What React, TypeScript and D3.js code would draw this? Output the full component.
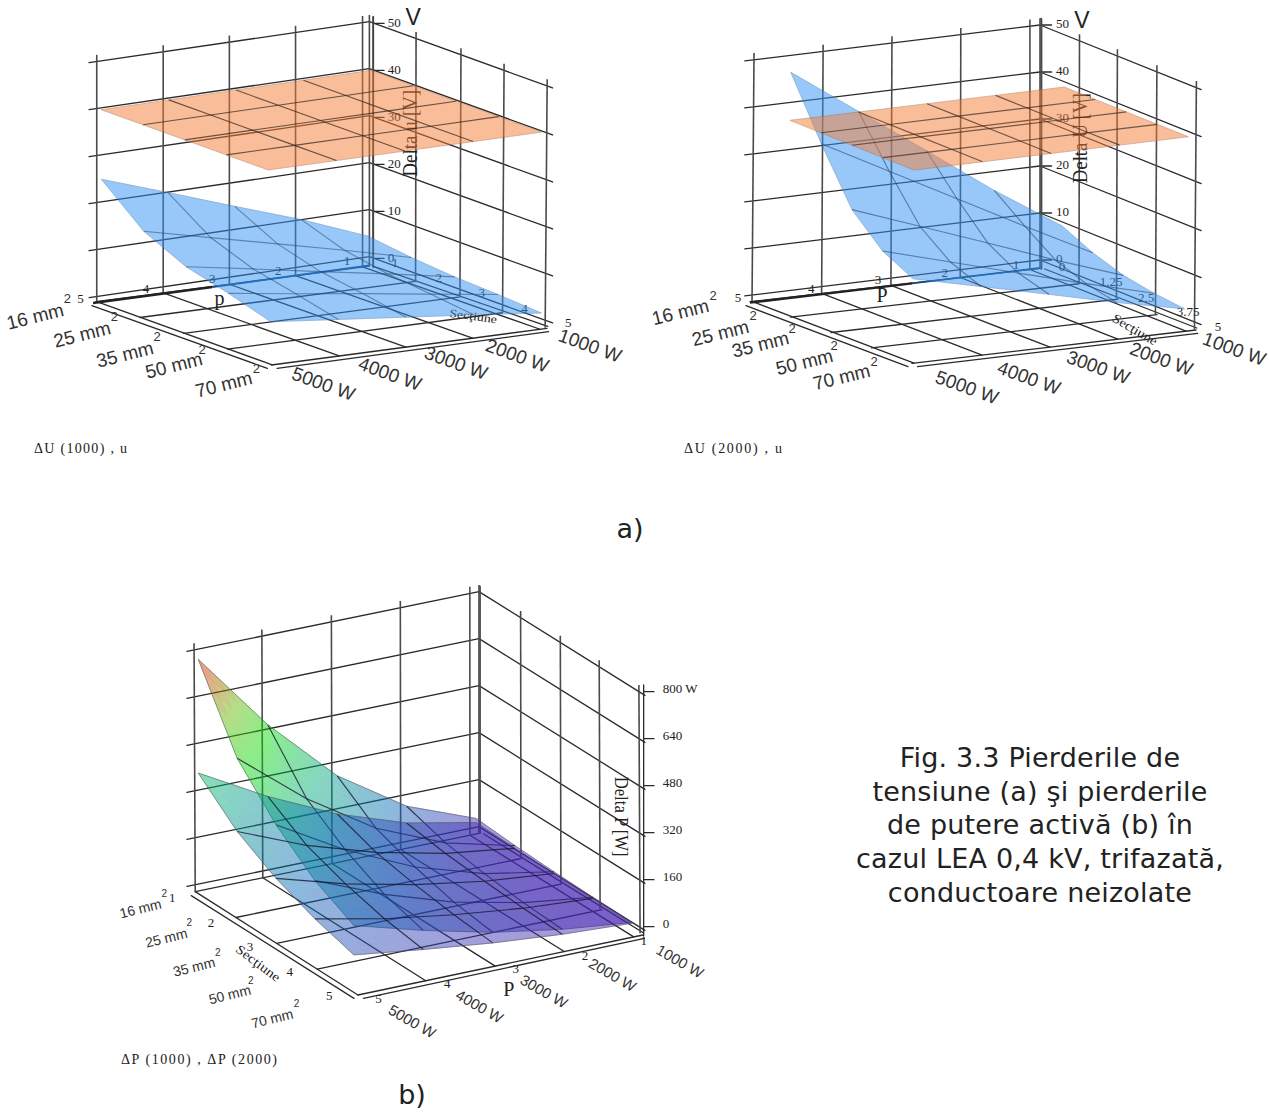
import React from "react";
import * as d3 from "d3";

// ---------- data ----------
const powerValues = [5, 4, 3, 2, 1];
const sectionValues = [1, 2, 3, 4, 5];
const sectionLabels = ["16 mm", "25 mm", "35 mm", "50 mm", "70 mm"];
const powerLabels = ["5000 W", "4000 W", "3000 W", "2000 W", "1000 W"];
const voltTicks = [0, 10, 20, 30, 40, 50];
const wattTicks = [0, 160, 320, 480, 640, 800];
const sectionAxisB = ["0", "1.25", "2.5", "3.75", "5"];

// rows: P = 5..1 (x1000 W), columns: section 16..70 mm2
const deltaU1000 = [
  [24.8, 17, 12.7, 10.3, 7.5],
  [19.9, 13.6, 10.2, 8.2, 6],
  [14.9, 10.2, 7.6, 6.2, 4.5],
  [10, 6.8, 5.1, 4.1, 3],
  [4.4, 3.2, 2.4, 2, 1.4],
];
const deltaU2000 = [
  [50.6, 38, 26.6, 20.4, 17.1],
  [40.5, 30.4, 21.3, 16.3, 13.7],
  [30.4, 22.8, 16, 12.2, 10.3],
  [20.2, 15.2, 10.6, 8.2, 6.8],
  [10.9, 7.8, 5.6, 4.4, 3.7],
];
const uLimitA = [39.6, 39.6, 39.6, 39.6, 39.6];
const uLimitB = [40.3, 40.3, 40.3, 40.3, 40.3];
const deltaP2000 = [
  [765, 511, 367, 260, 190],
  [494, 325, 233, 165, 125],
  [272, 176, 127, 90, 70],
  [120, 78, 56, 40, 32],
  [30, 20, 14, 10, 7],
];
const deltaP1000 = [
  [378, 262, 185, 130, 90],
  [250, 166, 118, 82, 60],
  [142, 94, 67, 47, 34],
  [63, 42, 30, 21, 15],
  [16, 11, 8, 6, 4],
];
const captionLines = [
  "Fig. 3.3 Pierderile de",
  "tensiune (a) şi pierderile",
  "de putere activă (b) în",
  "cazul LEA 0,4 kV, trifazată,",
  "conductoare neizolate",
];

// ---------- geometry ----------
type Pt = [number, number];
type Quad = { L: Pt; B: Pt; R: Pt; F: Pt };
const lerp = (a: Pt, b: Pt, t: number): Pt => [a[0] + (b[0] - a[0]) * t, a[1] + (b[1] - a[1]) * t];
const onQuad = (q: Quad, tp: number, ts: number): Pt => lerp(lerp(q.L, q.B, tp), lerp(q.F, q.R, tp), ts);
const line = d3.line<Pt>();
const SANS = "'Liberation Sans', Arial, sans-serif";
const SERIF = "'Liberation Serif', 'Times New Roman', serif";
const WIDE = "'DejaVu Sans', Verdana, sans-serif";
const NS = "non-scaling-stroke";

const rainbow = d3
  .scaleLinear<string>()
  .domain([0, 160, 320, 480, 600, 720, 800])
  .range(["#4a1fb0", "#0a6cb8", "#00aa7d", "#05db05", "#64b700", "#cf4000", "#d83a10"])
  .clamp(true);

type Surf = {
  rows: number[][];
  color?: string;
  ramp?: boolean;
  tp: [number, number];
  ts: [number, number];
  opacity: number;
  mesh: string;
  meshOpacity: number;
};
type Title = { t: string; x: number; y: number; rot: number; fs: number; len?: number; family?: string };
type Panel = {
  ox: number;
  oy: number;
  sx: number;
  wall: Quad;
  floor: Quad;
  zTicks: number[];
  zStep: number;
  leftT: number[];
  rightT: number[];
  gridS: number[];
  axisX: number;
  axisY0: number;
  zLabels: string[];
  zLabelX: number;
  zLabelDy: number;
  surfaces: Surf[];
  pNums: { t: string; x: number; y: number }[];
  sNums: { t: string; x: number; y: number }[];
  mm: Pt[];
  sup: Pt[];
  watt: Pt[];
  mmFs: number;
  wFs: number;
  supFs: number;
  mmRot: number;
  wRot: number;
  titles: Title[];
  heavy: Pt[][];
  heavyBlue: Pt[][];
};

function Surface({ s, wall, zPx }: { s: Surf; wall: Quad; zPx: (z: number) => number }) {
  const pT = d3.scaleLinear().domain([5, 1]).range(s.tp);
  const sT = d3.scaleLinear().domain([1, 5]).range(s.ts);
  const at = (p: number, q: number, z: number): Pt => {
    const b = onQuad(wall, pT(p), sT(q));
    return [b[0], b[1] - zPx(z)];
  };
  const cells: React.ReactNode[] = [];
  const n = s.ramp ? 6 : 1;
  for (let i = 0; i < 4; i++)
    for (let j = 0; j < 4; j++) {
      const z00 = s.rows[i][j], z01 = s.rows[i][j + 1], z10 = s.rows[i + 1][j], z11 = s.rows[i + 1][j + 1];
      const zAt = (u: number, v: number) => (z00 * (1 - v) + z01 * v) * (1 - u) + (z10 * (1 - v) + z11 * v) * u;
      const pos = (u: number, v: number) => at(powerValues[i] - u, sectionValues[j] + v, zAt(u, v));
      for (let a = 0; a < n; a++)
        for (let b = 0; b < n; b++) {
          const u0 = a / n, u1 = (a + 1) / n, v0 = b / n, v1 = (b + 1) / n;
          const c = s.ramp ? rainbow(zAt((u0 + u1) / 2, (v0 + v1) / 2)) : s.color!;
          cells.push(
            <path
              key={`${i}-${j}-${a}-${b}`}
              d={line([pos(u0, v0), pos(u0, v1), pos(u1, v1), pos(u1, v0)])! + "Z"}
              fill={c}
              stroke={c}
              strokeWidth={0.7}
              vectorEffect={NS}
            />
          );
        }
    }
  const meshP = powerValues.map((p, i) => line(sectionValues.map((q, j) => at(p, q, s.rows[i][j])))!);
  const meshS = sectionValues.map((q, j) => line(powerValues.map((p, i) => at(p, q, s.rows[i][j])))!);
  const edges = [meshP[0], meshP[4], meshS[0], meshS[4]];
  return (
    <g>
      <g opacity={s.opacity}>{cells}</g>
      <g fill="none" stroke={s.mesh} strokeOpacity={s.meshOpacity} strokeWidth={1.15}>
        {meshP.slice(1, 4).concat(meshS.slice(1, 4)).map((d, i) => (
          <path key={i} d={d} vectorEffect={NS} />
        ))}
      </g>
      <g fill="none" stroke="#555" strokeOpacity={s.ramp ? 0.55 : 0.2} strokeWidth={1}>
        {edges.map((d, i) => (
          <path key={i} d={d} vectorEffect={NS} />
        ))}
      </g>
    </g>
  );
}

function Chart({ P }: { P: Panel }) {
  const { wall, floor, sx } = P;
  const sy = 1 / 3;
  const X = (x: number) => x * sx;
  const Y = (y: number) => y * sy;
  const zPx = d3.scaleLinear().domain([P.zTicks[0], P.zTicks[5]]).range([0, 5 * P.zStep]);
  const zTop = P.zTicks[5];
  const wallAt = (tp: number, ts: number, z: number): Pt => {
    const b = onQuad(wall, tp, ts);
    return [b[0], b[1] - zPx(z)];
  };
  const lines: Pt[][] = [];
  const posts: Pt[][] = [];
  P.zTicks.forEach((z) => {
    lines.push([wallAt(-0.025, 0, z), wallAt(1, 0, z)]);
    lines.push([wallAt(1, 0, z), wallAt(1, 1.02, z)]);
  });
  P.leftT.forEach((t) => {
    const top = wallAt(t, 0, zTop);
    posts.push([[top[0], top[1] - 20], onQuad(floor, t, 0)]);
  });
  P.rightT.forEach((t) => {
    const top = wallAt(1, t, zTop);
    posts.push([[top[0], top[1] - 20], onQuad(floor, 1, t)]);
  });
  P.leftT.forEach((t) => lines.push([onQuad(floor, t, 0), onQuad(floor, t, 1)]));
  P.gridS.forEach((t) => lines.push([onQuad(floor, 0, t), onQuad(floor, 1, t)]));
  const bt = wallAt(1, 0, zTop);
  posts.push([[bt[0], bt[1] - 20], floor.B]);
  const shift = (a: Pt, dx: number, dy: number): Pt => [a[0] + dx, a[1] + dy];
  lines.push([shift(floor.L, -10, 12), shift(floor.F, -10, 10)]);
  lines.push([shift(floor.F, 14, 10), shift(floor.R, 4, 10)]);
  lines.push([shift(floor.B, 12, 2), shift(floor.R, 2, -6)]);
  const axisX = P.axisX;
  const axisY = (z: number) => P.axisY0 - zPx(z);
  return (
    <g transform={`translate(${P.ox},${P.oy})`}>
      <g transform={`scale(${sx},${sy})`}>
        <g stroke="#2a2a2a" strokeWidth={1.3} fill="none" strokeLinecap="round">
          {lines.map((l, i) => (
            <path key={i} d={line(l)!} vectorEffect={NS} />
          ))}
          <path d={`M${axisX},${axisY(zTop) - 20}L${axisX},${P.axisY0 + 28}`} vectorEffect={NS} />
          {P.zTicks.map((z) => (
            <path key={z} d={`M${axisX},${axisY(z)}L${axisX + 26},${axisY(z)}`} vectorEffect={NS} />
          ))}
        </g>
        <g stroke="#4a4a4a" strokeWidth={1.6} fill="none">
          {posts.map((l, i) => (
            <path key={i} d={line(l)!} vectorEffect={NS} />
          ))}
        </g>
        {P.heavy.map((l, i) => (
          <path key={i} d={line(l)!} stroke="#222" strokeWidth={2.4} fill="none" vectorEffect={NS} />
        ))}
        {P.heavyBlue.map((l, i) => (
          <path key={i} d={line(l)!} stroke="#1a4a80" strokeWidth={1.8} fill="none" vectorEffect={NS} />
        ))}
      </g>
      <g fontFamily={SERIF} fontSize={13} fill="#222">
        {P.zLabels.map((t, i) => (
          <text key={t} x={X(P.zLabelX)} y={Y(axisY(P.zTicks[i]) + P.zLabelDy)}>{t}</text>
        ))}
      </g>
      <g fontFamily={SERIF} fontSize={13} fill="#222" textAnchor="middle">
        {P.pNums.concat(P.sNums).map((n, i) => (
          <text key={i} x={X(n.x)} y={Y(n.y)}>{n.t}</text>
        ))}
      </g>
      <g fontFamily={SERIF} fill="#222" textAnchor="middle">
        {P.titles.map((t) => (
          <text
            key={t.t}
            transform={`translate(${X(t.x)},${Y(t.y)}) rotate(${t.rot})`}
            fontSize={t.fs}
            fontFamily={t.family}
            textLength={t.len}
            lengthAdjust={t.len ? "spacingAndGlyphs" : undefined}
          >
            {t.t}
          </text>
        ))}
      </g>
      <g transform={`scale(${sx},${sy})`}>
        {P.surfaces.map((s, i) => (
          <Surface key={i} s={s} wall={wall} zPx={zPx} />
        ))}
      </g>
      <g fontFamily={SANS} fill="#333" textAnchor="middle">
        {sectionLabels.map((t, i) => (
          <text key={t} fontSize={P.mmFs} transform={`translate(${X(P.mm[i][0])},${Y(P.mm[i][1])}) rotate(${P.mmRot})`}>{t}</text>
        ))}
        {P.sup.map((s, i) => (
          <text key={i} x={X(s[0])} y={Y(s[1])} fontSize={P.supFs}>2</text>
        ))}
        {powerLabels.map((t, i) => (
          <text key={t} fontSize={P.wFs} transform={`translate(${X(P.watt[i][0])},${Y(P.watt[i][1])}) rotate(${P.wRot})`}>{t}</text>
        ))}
      </g>
    </g>
  );
}

const nums = (labels: (string | number)[], pos: Pt[]) => labels.map((t, i) => ({ t: String(t), x: pos[i][0], y: pos[i][1] }));
const blue = "#3393f5";
const orange = "#f57d37";

const panelA1: Panel = {
  ox: 0, oy: 0, sx: 1 / 2.45,
  wall: { L: [235, 890], B: [905, 770], R: [1345, 965], F: [665, 1080] },
  floor: { L: [235, 905], B: [905, 798], R: [1340, 985], F: [665, 1095] },
  zTicks: voltTicks, zStep: 141,
  leftT: [0.003, 0.246, 0.488, 0.73, 0.975],
  rightT: [0.02, 0.26, 0.51, 0.75, 0.99],
  gridS: [0, 0.25, 0.5, 0.75, 1],
  axisX: 915, axisY0: 775,
  zLabels: voltTicks.map(String), zLabelX: 950, zLabelDy: 10,
  surfaces: [
    { rows: deltaU1000, color: blue, tp: [0.02, 0.995], ts: [0, 0.965], opacity: 0.5, mesh: "#2a4a70", meshOpacity: 0.55 },
    { rows: powerValues.map(() => uLimitA), color: orange, tp: [0.02, 1.005], ts: [0, 0.95], opacity: 0.5, mesh: "#3a2a20", meshOpacity: 0.75 },
  ],
  pNums: nums(powerValues, [[197, 908], [358, 880], [520, 850], [682, 825], [850, 795]]),
  sNums: nums(sectionValues, [[968, 800], [1075, 845], [1180, 890], [1285, 938], [1392, 982]]),
  mm: [[90, 968], [205, 1022], [310, 1082], [430, 1115], [552, 1172]],
  sup: [[165, 908], [280, 963], [385, 1023], [495, 1063], [628, 1118]],
  watt: [[787, 1170], [950, 1140], [1112, 1107], [1262, 1085], [1440, 1055]],
  mmFs: 19, wFs: 19, supFs: 13, mmRot: -14, wRot: 20,
  titles: [
    { t: "Delta u [V]", x: 1022, y: 400, rot: -90, fs: 21, len: 87 },
    { t: "p", x: 538, y: 915, rot: 0, fs: 20 },
    { t: "Secţiune", x: 1158, y: 960, rot: 8, fs: 11.5, len: 48 },
    { t: "V", x: 1012, y: 75, rot: 0, fs: 23, family: SANS },
  ],
  heavy: [[[228, 909], [520, 861]]],
  heavyBlue: [[[520, 861], [905, 796]]],
};

const panelA2: Panel = {
  ox: 640, oy: 0, sx: 1 / 2.5,
  wall: { L: [280, 885], B: [1000, 780], R: [1395, 970], F: [675, 1075] },
  floor: { L: [275, 905], B: [1000, 805], R: [1390, 990], F: [680, 1090] },
  zTicks: voltTicks, zStep: 141,
  leftT: [0.007, 0.247, 0.486, 0.725, 0.965],
  rightT: [0.01, 0.25, 0.49, 0.74, 0.99],
  gridS: [0, 0.25, 0.5, 0.75, 1],
  axisX: 1003, axisY0: 780,
  zLabels: voltTicks.map(String), zLabelX: 1040, zLabelDy: 10,
  surfaces: [
    { rows: deltaU2000, color: blue, tp: [0.003, 0.945], ts: [0.24, 1.015], opacity: 0.5, mesh: "#2a4a70", meshOpacity: 0.6 },
    { rows: powerValues.map(() => uLimitB), color: orange, tp: [0.003, 0.955], ts: [0.235, 1.02], opacity: 0.5, mesh: "#3a2a20", meshOpacity: 0.7 },
  ],
  pNums: nums(powerValues, [[245, 905], [428, 878], [595, 852], [762, 832], [940, 808]]),
  sNums: nums(sectionAxisB, [[1055, 812], [1178, 857], [1265, 905], [1370, 948], [1445, 992]]),
  mm: [[105, 955], [205, 1018], [305, 1052], [415, 1105], [508, 1150]],
  sup: [[183, 900], [283, 960], [380, 1000], [485, 1050], [585, 1098]],
  watt: [[812, 1180], [967, 1152], [1140, 1120], [1298, 1095], [1480, 1065]],
  mmFs: 19, wFs: 19, supFs: 13, mmRot: -14, wRot: 20,
  titles: [
    { t: "Delta U [V]", x: 1118, y: 415, rot: -90, fs: 21, len: 90 },
    { t: "P", x: 605, y: 905, rot: 0, fs: 20 },
    { t: "Secţiune", x: 1232, y: 1000, rot: 30, fs: 13, len: 50 },
    { t: "V", x: 1105, y: 84, rot: 0, fs: 23, family: SANS },
  ],
  heavy: [[[275, 908], [680, 850]]],
  heavyBlue: [[[680, 850], [1000, 804]]],
};

const panelB: Panel = {
  ox: 100, oy: 570, sx: 1 / 2.52,
  wall: { L: [237, 945], B: [955, 770], R: [1365, 1075], F: [647, 1250] },
  floor: { L: [240, 965], B: [955, 790], R: [1368, 1095], F: [650, 1275] },
  zTicks: wattTicks, zStep: 141,
  leftT: [0, 0.238, 0.482, 0.724, 0.968],
  rightT: [0.007, 0.256, 0.5, 0.739, 0.983],
  gridS: [0, 0.25, 0.5, 0.75, 1],
  axisX: 1370, axisY0: 1070,
  zLabels: ["0", "160", "320", "480", "640", "800 W"], zLabelX: 1418, zLabelDy: 5,
  surfaces: [
    { rows: deltaP2000, ramp: true, tp: [0.015, 0.99], ts: [0, 0.956], opacity: 0.47, mesh: "#181830", meshOpacity: 0.8 },
    { rows: deltaP1000, ramp: true, tp: [0.015, 0.99], ts: [0, 0.956], opacity: 0.47, mesh: "#181830", meshOpacity: 0.8 },
  ],
  pNums: nums(powerValues, [[702, 1298], [875, 1255], [1048, 1210], [1222, 1170], [1370, 1125]]),
  sNums: nums(sectionValues, [[182, 997], [280, 1070], [378, 1143], [478, 1217], [578, 1290]]),
  mm: [[105, 1030], [170, 1118], [240, 1205], [330, 1288], [437, 1360]],
  sup: [[162, 980], [225, 1068], [297, 1158], [380, 1243], [495, 1310]],
  watt: [[780, 1368], [950, 1323], [1112, 1278], [1285, 1228], [1455, 1188]],
  mmFs: 14, wFs: 15, supFs: 10, mmRot: -14, wRot: 30,
  titles: [
    { t: "Delta P [W]", x: 1297, y: 740, rot: 90, fs: 19, len: 80 },
    { t: "P", x: 1030, y: 1278, rot: 0, fs: 20 },
    { t: "Secţiune", x: 392, y: 1190, rot: 37, fs: 13, len: 52 },
  ],
  heavy: [],
  heavyBlue: [],
};

const panels = [panelA1, panelA2, panelB];

export default function App() {
  return (
    <svg
      width={1269}
      height={1112}
      viewBox="0 0 1269 1112"
      style={{ position: "absolute", left: 0, top: 0, background: "#fff" }}
    >
      {panels.map((p, i) => (
        <Chart key={i} P={p} />
      ))}
      <g fontFamily={SERIF} fontSize={14} fill="#222">
        <text x={34} y={453} textLength={93}>ΔU (1000) , u</text>
        <text x={684} y={453} textLength={98}>ΔU (2000) , u</text>
        <text x={121} y={1064} textLength={156}>ΔP (1000) , ΔP (2000)</text>
      </g>
      <g fontFamily={WIDE} fill="#222" fontSize={27}>
        <text x={630} y={538} textAnchor="middle">a)</text>
        <text x={412} y={1104} textAnchor="middle">b)</text>
        {captionLines.map((t, i) => (
          <text key={t} x={1040} y={767 + i * 33.7} textAnchor="middle" letterSpacing={0.2}>{t}</text>
        ))}
      </g>
    </svg>
  );
}
